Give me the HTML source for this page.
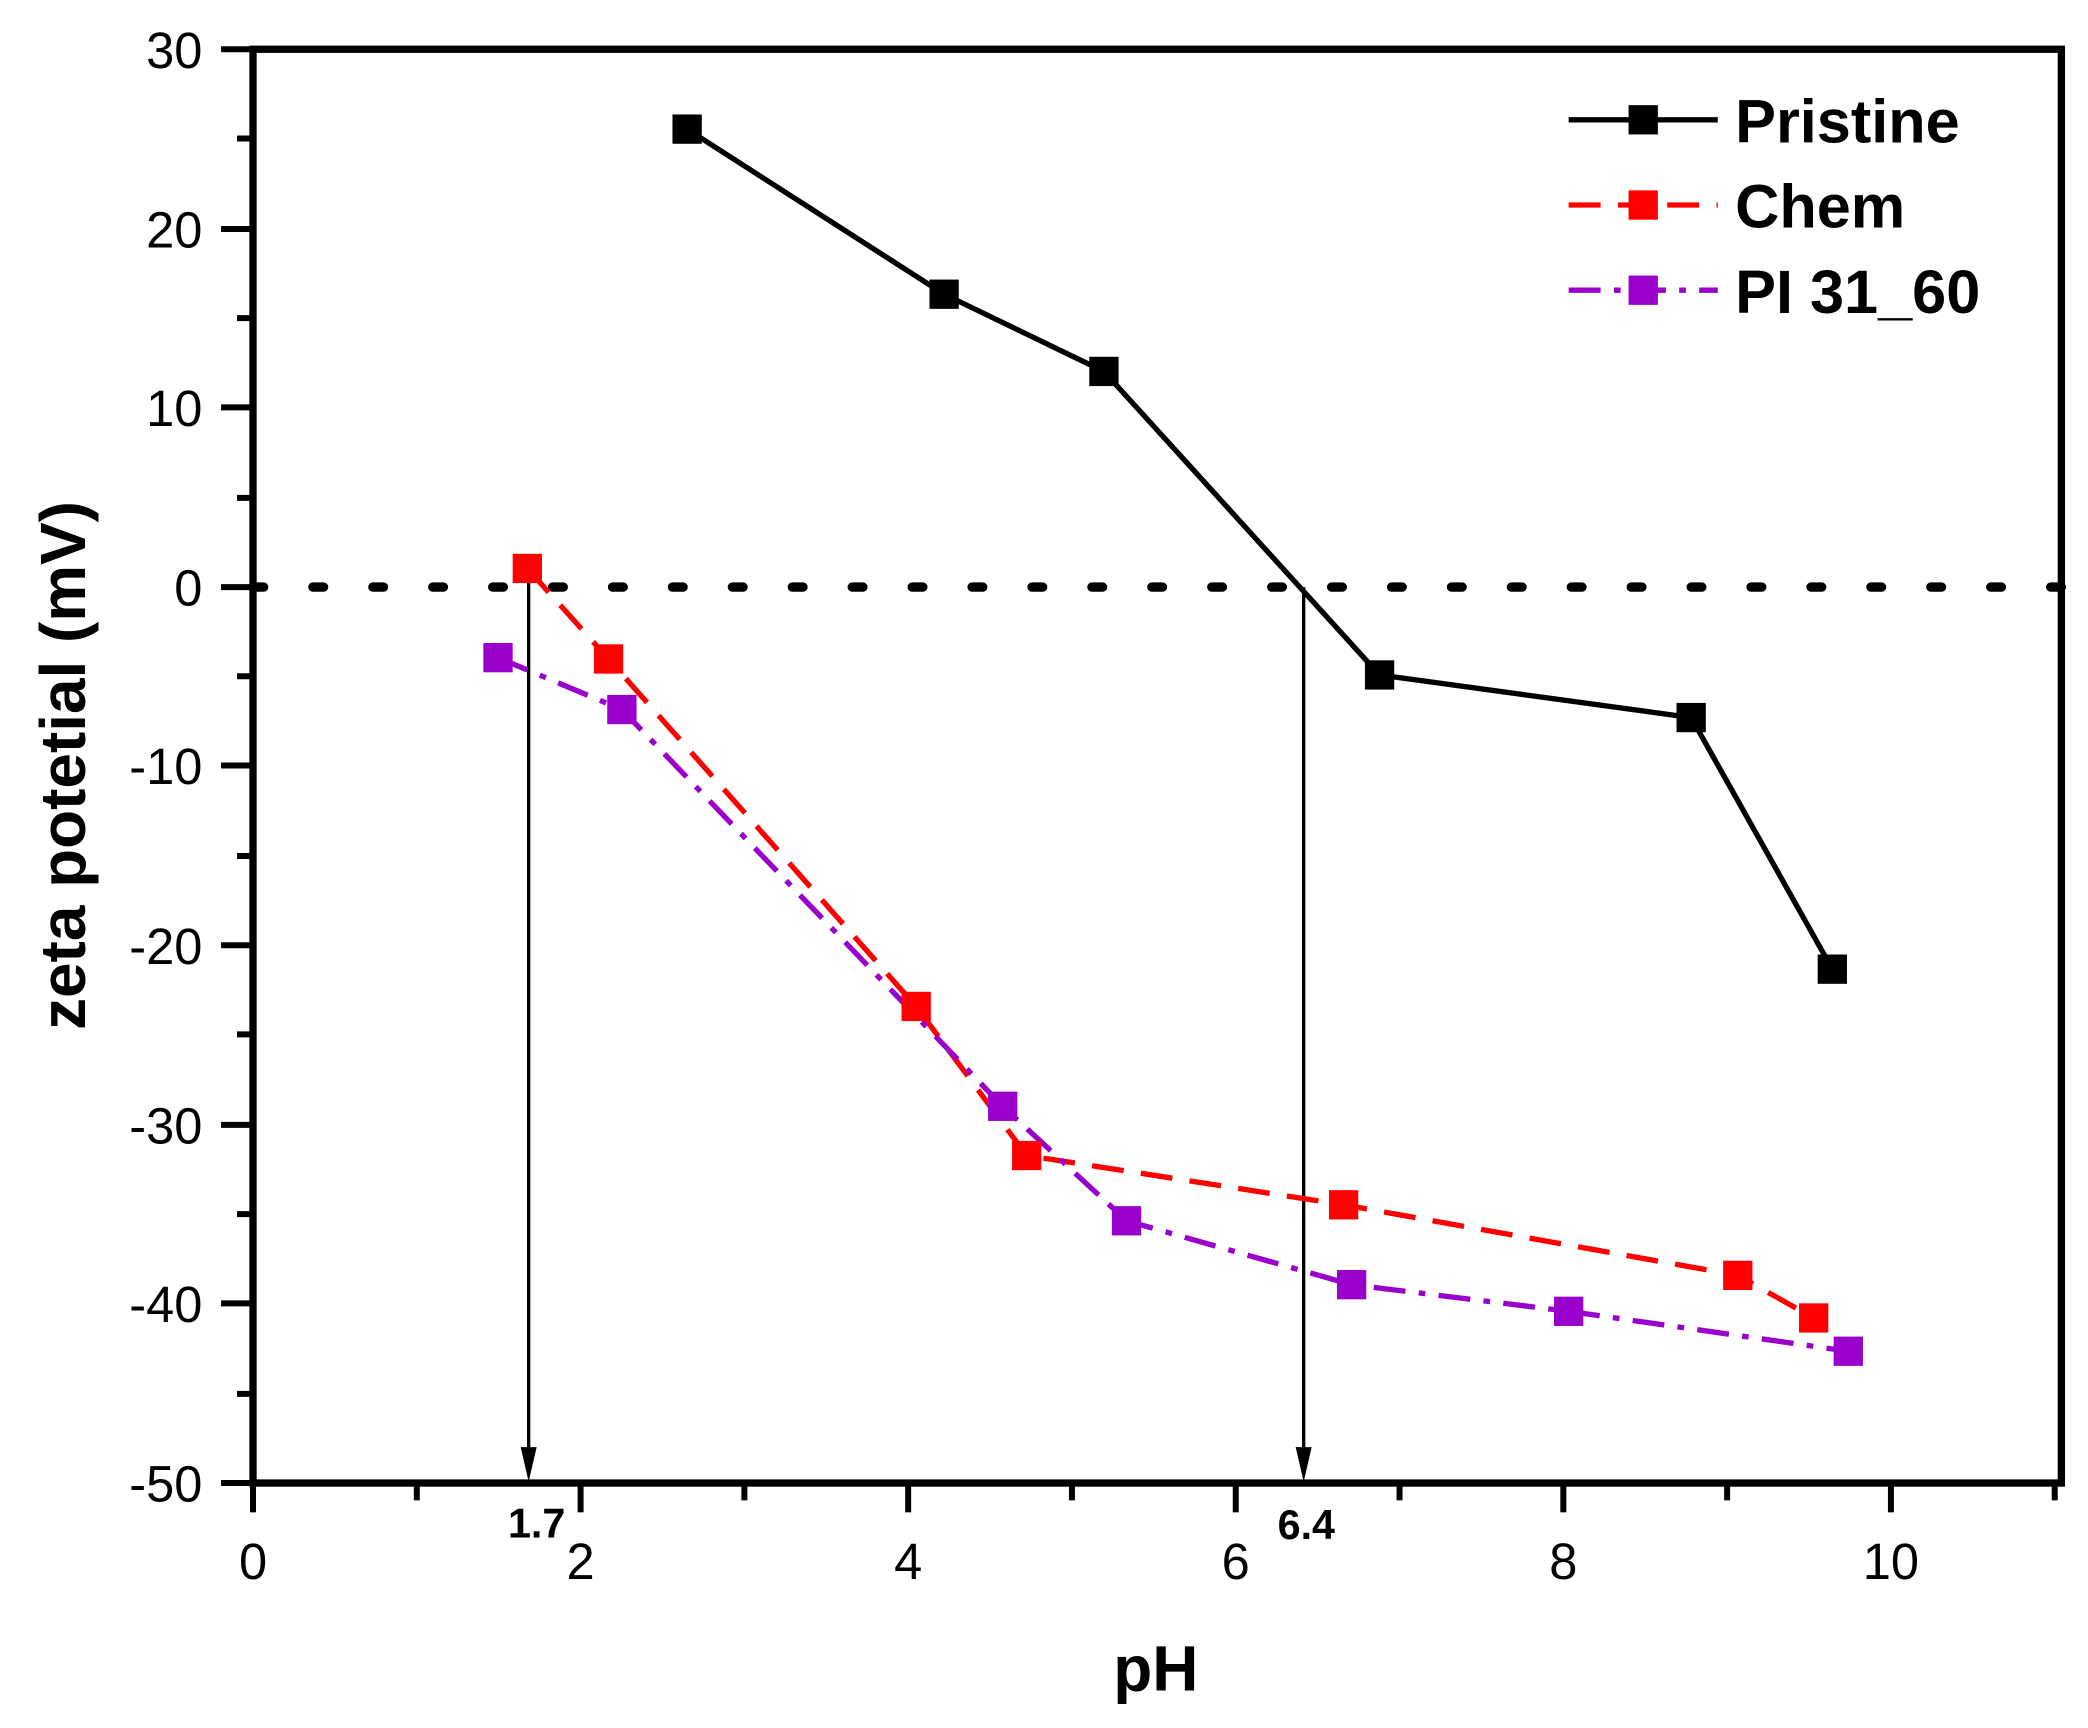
<!DOCTYPE html>
<html><head><meta charset="utf-8"><style>html,body{margin:0;padding:0;background:#fff}svg{display:block}</style></head>
<body>
<svg width="2088" height="1728" viewBox="0 0 1568 1298" preserveAspectRatio="none" xmlns="http://www.w3.org/2000/svg" font-family="Liberation Sans, Arial, sans-serif">
<rect width="1568" height="1298" fill="#fff"/>
<line x1="190" y1="441" x2="1548" y2="441" stroke="#000" stroke-width="7" stroke-linecap="round" stroke-dasharray="8 37"/>
<line x1="397" y1="427" x2="397" y2="1095" stroke="#000" stroke-width="2.5"/>
<polygon points="391,1087 403,1087 397,1113" fill="#000"/>
<line x1="979" y1="441" x2="979" y2="1095" stroke="#000" stroke-width="2.5"/>
<polygon points="973,1087 985,1087 979,1113" fill="#000"/>
<polyline points="516,97 709,221 829,279 1036,507 1270,539 1376,728" fill="none" stroke="#000" stroke-width="4"/>
<polyline points="396,427 457,495 688,756 771,868 1009,905 1305,958 1362,990" fill="none" stroke="#f00" stroke-width="4" stroke-dasharray="24 13"/>
<polyline points="374,494 467,533 753,831 846,917 1015,965 1178,985 1388,1015" fill="none" stroke="#9900cc" stroke-width="4" stroke-dasharray="24 10 5 10"/>
<g fill="#000"><rect x="505" y="86" width="22" height="22"/><rect x="698" y="210" width="22" height="22"/><rect x="818" y="268" width="22" height="22"/><rect x="1025" y="496" width="22" height="22"/><rect x="1259" y="528" width="22" height="22"/><rect x="1365" y="717" width="22" height="22"/></g>
<g fill="#f00"><rect x="385" y="416" width="22" height="22"/><rect x="446" y="484" width="22" height="22"/><rect x="677" y="745" width="22" height="22"/><rect x="760" y="857" width="22" height="22"/><rect x="998" y="894" width="22" height="22"/><rect x="1294" y="947" width="22" height="22"/><rect x="1351" y="979" width="22" height="22"/></g>
<g fill="#9900cc"><rect x="363" y="483" width="22" height="22"/><rect x="456" y="522" width="22" height="22"/><rect x="742" y="820" width="22" height="22"/><rect x="835" y="906" width="22" height="22"/><rect x="1004" y="954" width="22" height="22"/><rect x="1167" y="974" width="22" height="22"/><rect x="1377" y="1004" width="22" height="22"/></g>
<rect x="190" y="37" width="1358" height="1077" fill="none" stroke="#000" stroke-width="5.5"/>
<g stroke="#000" stroke-width="4.5">
<line x1="166" y1="37" x2="190" y2="37"/><line x1="166" y1="172" x2="190" y2="172"/><line x1="166" y1="306" x2="190" y2="306"/><line x1="166" y1="441" x2="190" y2="441"/><line x1="166" y1="575" x2="190" y2="575"/><line x1="166" y1="710" x2="190" y2="710"/><line x1="166" y1="845" x2="190" y2="845"/><line x1="166" y1="979" x2="190" y2="979"/><line x1="166" y1="1114" x2="190" y2="1114"/>
<line x1="178" y1="104" x2="190" y2="104"/><line x1="178" y1="239" x2="190" y2="239"/><line x1="178" y1="374" x2="190" y2="374"/><line x1="178" y1="508" x2="190" y2="508"/><line x1="178" y1="643" x2="190" y2="643"/><line x1="178" y1="777" x2="190" y2="777"/><line x1="178" y1="912" x2="190" y2="912"/><line x1="178" y1="1047" x2="190" y2="1047"/>
<line x1="190" y1="1114" x2="190" y2="1136"/><line x1="436" y1="1114" x2="436" y2="1136"/><line x1="682" y1="1114" x2="682" y2="1136"/><line x1="928" y1="1114" x2="928" y2="1136"/><line x1="1174" y1="1114" x2="1174" y2="1136"/><line x1="1420" y1="1114" x2="1420" y2="1136"/>
<line x1="313" y1="1114" x2="313" y2="1127"/><line x1="559" y1="1114" x2="559" y2="1127"/><line x1="805" y1="1114" x2="805" y2="1127"/><line x1="1051" y1="1114" x2="1051" y2="1127"/><line x1="1297" y1="1114" x2="1297" y2="1127"/><line x1="1543" y1="1114" x2="1543" y2="1127"/>
</g>
<g font-size="38" text-anchor="end">
<text x="152" y="51">30</text><text x="152" y="186">20</text><text x="152" y="320">10</text><text x="152" y="455">0</text><text x="152" y="589">-10</text><text x="152" y="724">-20</text><text x="152" y="859">-30</text><text x="152" y="993">-40</text><text x="152" y="1128">-50</text>
</g>
<g font-size="38" text-anchor="middle">
<text x="190" y="1186">0</text><text x="436" y="1186">2</text><text x="682" y="1186">4</text><text x="928" y="1186">6</text><text x="1174" y="1186">8</text><text x="1420" y="1186">10</text>
</g>
<g font-size="31" font-weight="bold" text-anchor="middle">
<text x="403" y="1155">1.7</text><text x="981" y="1156">6.4</text>
</g>
<text x="868" y="1270" font-size="48" font-weight="bold" text-anchor="middle">pH</text>
<text transform="translate(64,575) rotate(-90)" font-size="48" font-weight="bold" text-anchor="middle">zeta potetial (mV)</text>
<line x1="1178" y1="90" x2="1290" y2="90" stroke="#000" stroke-width="4"/><rect x="1223" y="79" width="22" height="22" fill="#000"/>
<line x1="1178" y1="154" x2="1290" y2="154" stroke="#f00" stroke-width="4" stroke-dasharray="24 13"/><rect x="1223" y="143" width="22" height="22" fill="#f00"/>
<line x1="1178" y1="218" x2="1290" y2="218" stroke="#9900cc" stroke-width="4" stroke-dasharray="24 10 5 10"/><rect x="1223" y="207" width="22" height="22" fill="#9900cc"/>
<g font-size="46" font-weight="bold"><text x="1303" y="107">Pristine</text><text x="1303" y="171">Chem</text><text x="1303" y="235">PI 31_60</text></g>
</svg>
</body></html>
